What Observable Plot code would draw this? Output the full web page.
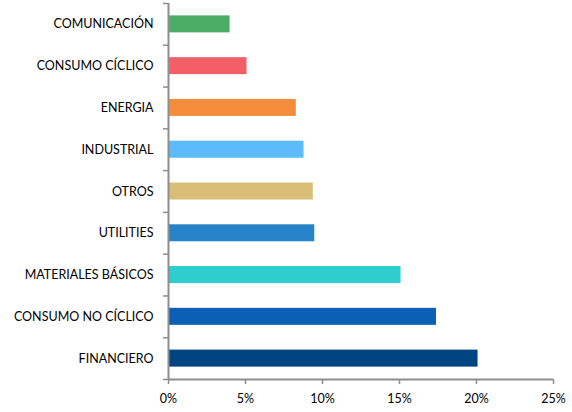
<!DOCTYPE html>
<html><head><meta charset="utf-8">
<script src="https://cdn.jsdelivr.net/npm/d3@7"></script>
<script src="https://cdn.jsdelivr.net/npm/@observablehq/plot@0.6"></script>
<style>body{margin:0;background:#fff}</style>
</head><body><div id="chart"></div>
<script>
const categories = ["COMUNICACIÓN","CONSUMO CÍCLICO","ENERGIA","INDUSTRIAL","OTROS","UTILITIES","MATERIALES BÁSICOS","CONSUMO NO CÍCLICO","FINANCIERO"];
const values = [4.0, 5.1, 8.3, 8.8, 9.4, 9.5, 15.1, 17.4, 20.1];
const colors = ["#4BAE67","#F25F66","#F68D3C","#5BBBFB","#D8BD76","#2884C9","#2ECDCE","#0B5FB4","#004481"];
const xTicks = [0, 5, 10, 15, 20, 25];

const data = categories.map((c, i) => ({cat: c, v: values[i], col: colors[i]}));
const W = 572, H = 412, mt = 3, mb = 33, ml = 168, mr = 19;
const step = (H - mt - mb) / categories.length;
const axisColor = "#8E8E8E";

const chart = Plot.plot({
  width: W, height: H,
  marginTop: mt, marginBottom: mb, marginLeft: ml, marginRight: mr,
  style: {fontFamily: "Lato, 'Open Sans', sans-serif", fontSize: "12.5px", color: "#000", background: "#fff"},
  x: {domain: [0, 25], ticks: xTicks, label: null},
  y: {domain: categories, paddingInner: 0.593, paddingOuter: 0.2965, align: 0.5, round: false, label: null},
  marks: [
    Plot.barX(data, {x: "v", y: "cat", fill: "col"}),
    Plot.axisY({tickSize: 0, tickPadding: 15, fill: "#000", fontSize: 12.5, label: null}),
    Plot.axisY({tickSize: 5, text: null, stroke: axisColor, strokeWidth: 1.5, dy: -step / 2, label: null}),
    Plot.axisY([categories[categories.length - 1]], {tickSize: 5, text: null, stroke: axisColor, strokeWidth: 1.5, dy: step / 2, label: null}),
    Plot.ruleX([0], {stroke: axisColor, strokeWidth: 2}),
    Plot.ruleY([0], {y: () => categories[categories.length - 1], x1: 0, x2: 25, dy: step / 2, stroke: axisColor, strokeWidth: 2}),
    Plot.axisX({ticks: xTicks, tickSize: 5, tickPadding: 10, stroke: axisColor, strokeWidth: 1.5, fill: "#000", fontSize: 12.5, tickFormat: d => d + "%", label: null})
  ]
});
document.getElementById("chart").appendChild(chart);
</script>
</body></html>
